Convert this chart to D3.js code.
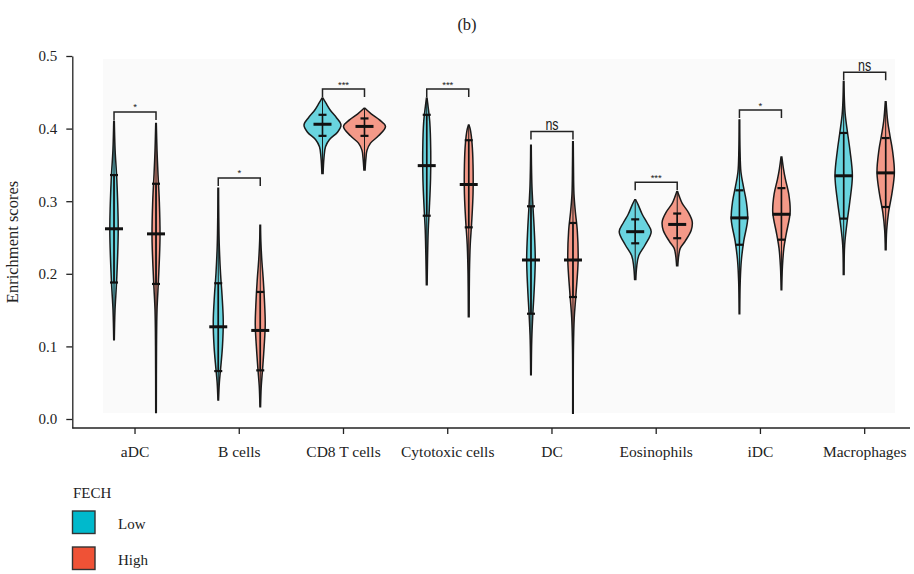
<!DOCTYPE html>
<html>
<head>
<meta charset="utf-8">
<script src="https://cdn.jsdelivr.net/npm/d3@7"></script>
<style>
  html, body { margin: 0; padding: 0; background: #ffffff; }
  svg { display: block; }
  text { font-family: "Liberation Serif", "Times New Roman", serif; fill: #222; }
</style>
</head>
<body>
<svg id="chart" width="914" height="574"></svg>
<script>
// ---------------- DATA ----------------
const categories = ["aDC", "B cells", "CD8 T cells", "Cytotoxic cells", "DC", "Eosinophils", "iDC", "Macrophages"];
const groups = ["Low", "High"];
const yTicks = [0.0, 0.1, 0.2, 0.3, 0.4, 0.5];

// summary statistics (min, q1, median, q3, max) for FECH Low
const lowMin    = [0.109, 0.026, 0.338, 0.185, 0.061, 0.192, 0.145, 0.199];
const lowQ1     = [0.188, 0.066, 0.390, 0.280, 0.145, 0.242, 0.240, 0.276];
const lowMedian = [0.262, 0.127, 0.406, 0.349, 0.219, 0.258, 0.277, 0.335];
const lowQ3     = [0.336, 0.187, 0.419, 0.419, 0.293, 0.275, 0.315, 0.394];
const lowMax    = [0.410, 0.318, 0.442, 0.442, 0.377, 0.302, 0.412, 0.465];

// summary statistics for FECH High
const highMin    = [0.009, 0.017, 0.343, 0.141, 0.008, 0.211, 0.178, 0.233];
const highQ1     = [0.186, 0.067, 0.390, 0.264, 0.168, 0.249, 0.247, 0.292];
const highMedian = [0.255, 0.122, 0.403, 0.323, 0.219, 0.268, 0.282, 0.339];
const highQ3     = [0.324, 0.175, 0.414, 0.384, 0.270, 0.283, 0.318, 0.387];
const highMax    = [0.407, 0.267, 0.428, 0.405, 0.382, 0.313, 0.361, 0.437];

// estimated density profiles [score, density] for each violin
const lowDensity = [
  [[0.109,0.3],[0.15,1],[0.19,2.6],[0.26,4.2],[0.33,2.8],[0.37,1.1],[0.41,0.3]],
  [[0.026,0.3],[0.05,1.1],[0.07,2.4],[0.10,4.2],[0.135,5],[0.17,3.8],[0.20,2.3],[0.24,1],[0.28,0.5],[0.318,0.3]],
  [[0.338,0.6],[0.36,1.5],[0.375,3],[0.385,7],[0.395,15],[0.405,18.5],[0.415,14],[0.425,8],[0.435,3.5],[0.442,0.5]],
  [[0.185,0.4],[0.22,0.8],[0.26,1.5],[0.29,2.6],[0.33,3.8],[0.37,4],[0.41,3],[0.43,1.4],[0.442,0.3]],
  [[0.061,0.3],[0.11,0.8],[0.145,1.9],[0.18,3.3],[0.22,4.3],[0.26,3.3],[0.29,2.1],[0.32,1],[0.35,0.5],[0.377,0.3]],
  [[0.192,0.6],[0.21,1.5],[0.225,3.5],[0.24,10],[0.258,16],[0.27,12],[0.282,7],[0.295,3],[0.302,0.5]],
  [[0.145,0.3],[0.19,0.8],[0.22,2],[0.245,4.3],[0.275,8.2],[0.30,6.8],[0.32,4],[0.34,1.5],[0.37,0.6],[0.412,0.3]],
  [[0.199,0.4],[0.24,1],[0.27,3.3],[0.30,6.2],[0.335,8.7],[0.37,6.3],[0.395,3.8],[0.42,1.5],[0.44,0.7],[0.465,0.3]]
];
const highDensity = [
  [[0.009,0.3],[0.10,0.5],[0.15,1],[0.19,2.4],[0.25,4],[0.30,3.3],[0.34,1.9],[0.37,1],[0.407,0.3]],
  [[0.017,0.3],[0.045,1],[0.07,2.4],[0.10,3.9],[0.13,5],[0.16,4.3],[0.19,3.1],[0.22,1.5],[0.245,0.6],[0.267,0.3]],
  [[0.343,0.6],[0.36,1.5],[0.37,2.5],[0.38,6],[0.39,14],[0.403,21],[0.412,15],[0.42,7],[0.428,0.5]],
  [[0.141,0.4],[0.20,0.7],[0.24,1.5],[0.27,2.9],[0.31,4.3],[0.35,4.3],[0.38,3.3],[0.398,1.7],[0.405,0.3]],
  [[0.008,0.3],[0.10,0.5],[0.14,1.3],[0.17,2.9],[0.22,5.2],[0.26,4.3],[0.285,2.4],[0.31,1],[0.35,0.5],[0.382,0.3]],
  [[0.211,0.6],[0.225,1.5],[0.235,3],[0.245,8],[0.26,14],[0.272,15],[0.285,11],[0.297,5],[0.307,2],[0.313,0.5]],
  [[0.178,0.3],[0.21,1],[0.235,2.4],[0.255,4.8],[0.285,8.7],[0.31,7.3],[0.33,4],[0.345,2],[0.361,0.4]],
  [[0.233,0.4],[0.26,1],[0.285,2.9],[0.31,6.2],[0.34,8.7],[0.37,6.8],[0.39,4.3],[0.41,2],[0.437,0.4]]
];

// significance brackets
const sigLabels = ["*", "*", "***", "***", "ns", "***", "*", "ns"];
const sigHeight = [0.423, 0.332, 0.4545, 0.4545, 0.396, 0.326, 0.4256, 0.4775];

// ---------------- CHART ----------------
const svg = d3.select("#chart");
const colors = { Low: "#00b9cc", High: "#ef5236" };

const y = d3.scaleLinear().domain([-0.0124, 0.5]).range([428, 56]);
const x = d3.scaleBand().domain(categories).range([82.9, 916.8]);
const xSub = d3.scaleBand().domain(groups).range([-42, 42]);
const w = d3.scaleLinear().domain([0, 21]).range([0, 21]);

// panel background
svg.append("rect")
  .attr("x", 103).attr("y", 59).attr("width", 792).attr("height", 354)
  .attr("fill", "#fafafa");

// title
svg.append("text").attr("x", 467).attr("y", 30)
  .attr("text-anchor", "middle").attr("font-size", 16.5).text("(b)");

// y axis
const yAxis = svg.append("g").attr("transform", "translate(72.3,0)")
  .call(d3.axisLeft(y).tickValues(yTicks).tickFormat(d3.format(".1f"))
        .tickSize(6).tickSizeOuter(0).tickPadding(9));
yAxis.selectAll("text").attr("font-size", 15).attr("font-family", "Liberation Serif").attr("fill", "#222");
yAxis.selectAll("line, path").attr("stroke", "#222").attr("stroke-width", 1.3);

// x axis
const xAxis = svg.append("g").attr("transform", "translate(0,428)")
  .call(d3.axisBottom(x).tickSize(6).tickSizeOuter(0).tickPadding(12));
xAxis.select(".domain").remove();
xAxis.selectAll("text").attr("font-size", 15.5).attr("font-family", "Liberation Serif").attr("fill", "#222");
xAxis.selectAll("line").attr("stroke", "#222").attr("stroke-width", 1.3);
svg.append("line").attr("x1", 72.3).attr("x2", 910).attr("y1", 428).attr("y2", 428)
  .attr("stroke", "#222").attr("stroke-width", 1.3);

svg.append("text")
  .attr("transform", "translate(18,242) rotate(-90)")
  .attr("text-anchor", "middle").attr("font-size", 16.5).text("Enrichment scores");

// violins
const stats = {
  Low:  { min: lowMin, q1: lowQ1, med: lowMedian, q3: lowQ3, max: lowMax, dens: lowDensity },
  High: { min: highMin, q1: highQ1, med: highMedian, q3: highQ3, max: highMax, dens: highDensity }
};

const plot = svg.append("g");
categories.forEach((cat, i) => {
  const cc = x(cat) + x.bandwidth() / 2;
  groups.forEach(g => {
    const s = stats[g];
    const cx = cc + xSub(g) + xSub.bandwidth() / 2;
    const area = d3.area()
      .curve(d3.curveCatmullRom)
      .y(d => y(d[0]))
      .x0(d => cx - w(d[1]))
      .x1(d => cx + w(d[1]));
    const vg = plot.append("g");
    vg.append("path").datum(s.dens[i]).attr("d", area)
      .attr("fill", colors[g]).attr("fill-opacity", 0.58)
      .attr("stroke", "#1a1a1a").attr("stroke-width", 1.5);
    vg.append("line").attr("x1", cx).attr("x2", cx)
      .attr("y1", y(s.min[i])).attr("y2", y(s.max[i]))
      .attr("stroke", "#1a1a1a").attr("stroke-width", 1);
    vg.append("line").attr("x1", cx).attr("x2", cx)
      .attr("y1", y(s.q1[i])).attr("y2", y(s.q3[i]))
      .attr("stroke", "#111").attr("stroke-width", 1.6);
    [s.q1[i], s.q3[i]].forEach(q => {
      vg.append("line").attr("x1", cx - 4).attr("x2", cx + 4)
        .attr("y1", y(q)).attr("y2", y(q))
        .attr("stroke", "#111").attr("stroke-width", 2.2);
    });
    vg.append("line").attr("x1", cx - 9).attr("x2", cx + 9)
      .attr("y1", y(s.med[i])).attr("y2", y(s.med[i]))
      .attr("stroke", "#111").attr("stroke-width", 3);
  });

  // bracket
  const xl = cc + xSub("Low") + xSub.bandwidth() / 2;
  const xh = cc + xSub("High") + xSub.bandwidth() / 2;
  const by = y(sigHeight[i]);
  svg.append("path")
    .attr("d", `M${xl},${by + 8}V${by}H${xh}V${by + 8}`)
    .attr("fill", "none").attr("stroke", "#222").attr("stroke-width", 1.5);
  const lab = sigLabels[i];
  svg.append("text")
    .attr("transform", `translate(${(xl + xh) / 2},${by - 1.5}) scale(${lab === "ns" ? 0.78 : 1},1)`)
    .attr("text-anchor", "middle")
    .style("font-family", "'Liberation Sans', sans-serif")
    .attr("font-size", lab === "ns" ? 16 : 9.5)
    .attr("fill", "#444")
    .text(lab);
});

// legend
svg.append("text").attr("x", 73).attr("y", 498).attr("font-size", 15).text("FECH");
const legendRows = [{ g: "Low", y0: 511 }, { g: "High", y0: 547 }];
legendRows.forEach(r => {
  svg.append("rect").attr("x", 72.5).attr("y", r.y0).attr("width", 22.5).attr("height", 22.5)
    .attr("fill", colors[r.g]).attr("stroke", "#333").attr("stroke-width", 1.4);
  svg.append("text").attr("x", 118).attr("y", r.y0 + 17.5).attr("font-size", 15).text(r.g);
});
</script>
</body>
</html>
